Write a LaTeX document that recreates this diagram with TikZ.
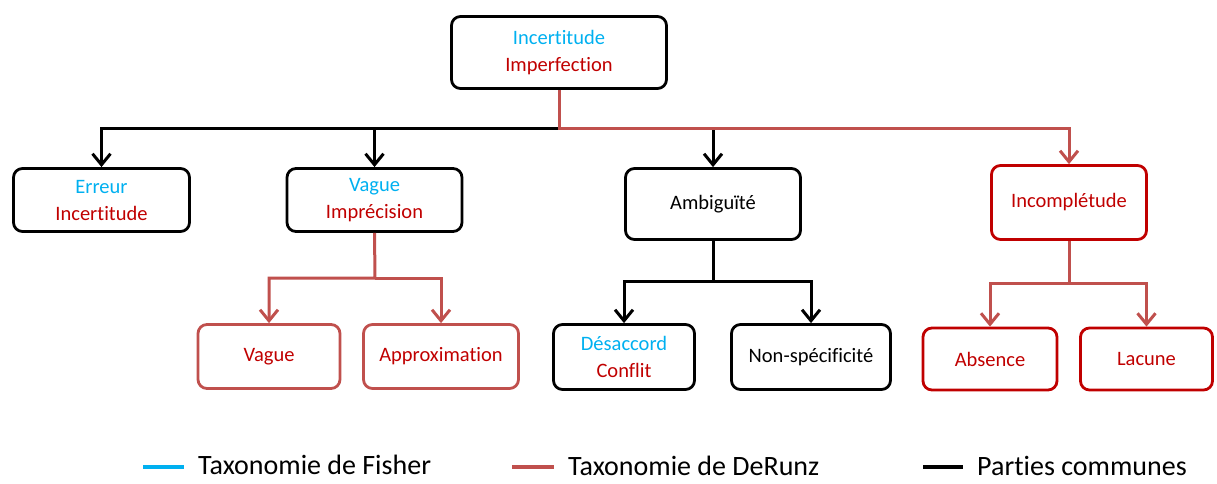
\documentclass[tikz,border=0pt]{standalone}
\usepackage{fontspec}
\setmainfont{Carlito}[Ligatures={CommonOff}]
\usetikzlibrary{arrows.meta}
\definecolor{fblue}{HTML}{00B0F0}
\definecolor{dred}{HTML}{C00000}
\definecolor{lred}{HTML}{C0504D}
\tikzset{
  box/.style={draw, line width=2.8pt, rounded corners=9pt, align=center,
    font=\fontsize{20.5}{27}\selectfont, inner sep=0pt, anchor=center},
  blkbox/.style={box, draw=black},
  dredbox/.style={box, draw=dred},
  lredbox/.style={box, draw=lred},
  conn/.style={line width=3pt, -{Straight Barb[length=11pt,width=18pt,line width=3pt]}},
  blk/.style={conn, draw=black},
  rd/.style={conn, draw=lred},
  legline/.style={line width=4pt},
  legtext/.style={anchor=west, font=\fontsize{28}{32}\selectfont, inner sep=0pt},
}
\newcommand{\bl}[1]{\textcolor{fblue}{#1}}
\newcommand{\rdt}[1]{\textcolor{dred}{#1}}
\begin{document}
\begin{tikzpicture}[x=1pt,y=-1pt]
\useasboundingbox (0,0) rectangle (1217,483);
% top
\node[blkbox, minimum width=215pt, minimum height=72pt] (top) at (559,52.5) {\bl{Incertitude}\\\rdt{Imperfection}};
% second row
\node[blkbox, minimum width=176pt, minimum height=63pt] (err) at (101.5,200) {\bl{Erreur}\\\rdt{Incertitude}};
\node[blkbox, minimum width=175pt, minimum height=63pt] (vag) at (374.5,200) {\bl{Vague}\\\rdt{Imprécision}};
\node[blkbox, minimum width=175pt, minimum height=71pt] (amb) at (713,204) {Ambiguïté};
\node[dredbox, minimum width=155pt, minimum height=74pt] (inc) at (1069,202.5) {\rdt{Incomplétude}};
% third row
\node[lredbox, minimum width=142pt, minimum height=64pt] (vg2) at (269,356.5) {\rdt{Vague}};
\node[lredbox, minimum width=155pt, minimum height=64pt] (apx) at (441,356.5) {\rdt{Approximation}};
\node[blkbox, minimum width=141pt, minimum height=65pt] (des) at (624,357) {\bl{Désaccord}\\\rdt{Conflit}};
\node[blkbox, minimum width=159pt, minimum height=65pt] (non) at (811,357) {Non-spécificité};
\node[dredbox, minimum width=134pt, minimum height=62pt] (abs) at (990,359) {\rdt{Absence}};
\node[dredbox, minimum width=132pt, minimum height=62pt] (lac) at (1146.5,359) {\rdt{Lacune}};
% junctions
\coordinate (j1) at (559,128);
\coordinate (j2) at (375,278);
\coordinate (j3) at (713,281);
\coordinate (j4) at (1069,283);
% black connectors
\draw[blk] (j1) -| (err.north);
\draw[blk] (j1) -| (vag.north);
\draw[blk] (j1) -| (amb.north);
% red connectors
\draw[rd] (top.south) -- (j1) -| (inc.north);
\draw[rd] (vag.south) -- (j2) -| (vg2.north);
\draw[rd] (j2) -| (apx.north);
\draw[blk] (amb.south) -- (j3) -| (des.north);
\draw[blk] (j3) -| (non.north);
\draw[rd] (inc.south) -- (j4) -| (abs.north);
\draw[rd] (j4) -| (lac.north);
% legend
\coordinate (l1a) at (143,467); \coordinate (l1b) at (184,467);
\coordinate (l2a) at (512,467); \coordinate (l2b) at (554,467);
\coordinate (l3a) at (923,467); \coordinate (l3b) at (963,467);
\draw[legline, fblue] (l1a) -- (l1b);
\draw[legline, lred] (l2a) -- (l2b);
\draw[legline, black] (l3a) -- (l3b);
\node[legtext] (t1) at (198,465) {Taxonomie de Fisher};
\node[legtext] (t2) at (568,466) {Taxonomie de DeRunz};
\node[legtext] (t3) at (977,466) {Parties communes};
\end{tikzpicture}
\end{document}
